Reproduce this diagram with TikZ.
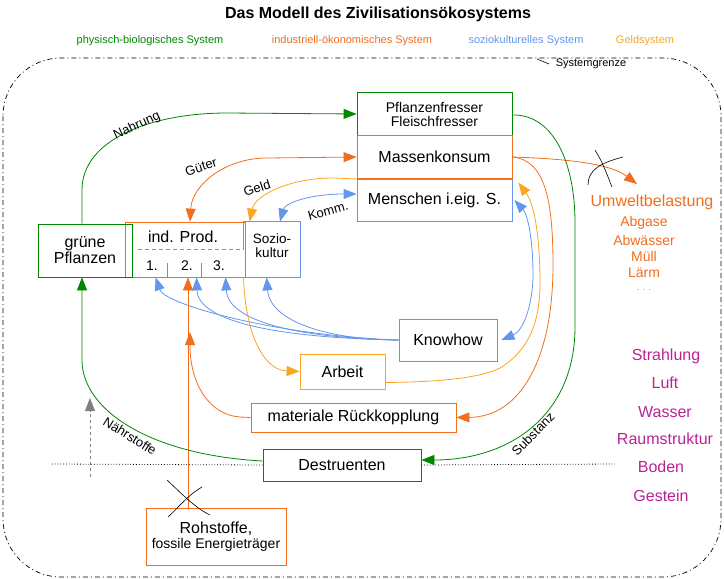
\documentclass[tikz,border=0pt]{standalone}
\usepackage{fontspec}
\setmainfont{Liberation Sans}
\usetikzlibrary{arrows.meta}

\definecolor{biogreen}{RGB}{0,135,0}
\definecolor{indorange}{RGB}{240,110,30}
\definecolor{soziblue}{RGB}{100,150,235}
\definecolor{geldorange}{RGB}{250,165,30}
\definecolor{umweltpink}{RGB}{185,35,150}
\newcommand{\fsz}[1]{\fontsize{#1}{#1}\selectfont}

\begin{document}
\begin{tikzpicture}[x=1pt,y=-1pt,line width=0.8pt,>={Triangle[length=13pt,width=10pt]}]
\tikzstyle{box}=[draw,rectangle,inner sep=0pt,align=center,font=\fsz{16}]
\tikzstyle{legende}=[font=\fsz{11}]
\tikzstyle{flow}=[font=\fsz{13}]
\tikzstyle{liste}=[font=\fsz{14},text=indorange]
\tikzstyle{umfeld}=[font=\fsz{16},text=umweltpink]

\useasboundingbox (0,0) rectangle (724,579);

% Titel, Legende, Systemgrenze
\node[font=\bfseries\fsz{16}] (titel) at (378,14) {Das Modell des Zivilisationsökosystems};
\node[legende,text=biogreen] (L1) at (150,41) {physisch-biologisches System};
\node[legende,text=indorange] (L2) at (352,41) {industriell-ökonomisches System};
\node[legende,text=soziblue] (L3) at (526,41) {soziokulturelles System};
\node[legende,text=geldorange] (L4) at (645,41) {Geldsystem};
\draw[line width=0.7pt,dash pattern=on 5pt off 3pt on 1pt off 3pt,rounded corners=58pt] (3,58) rectangle (721,577);
\node[legende] (grenze) at (591,64) {Systemgrenze};
\draw[line width=0.6pt] ([xshift=-3pt]grenze.west) -- ++(-12,-5);

% Kaesten
\node[box,draw=biogreen,minimum width=155,minimum height=43,font=\fsz{14}] (fresser) at (434.5,114) {Pflanzenfresser\\Fleischfresser};
\node[box,draw=indorange,minimum width=155,minimum height=43] (konsum) at (434.5,157) {Massenkonsum};
\node[box,draw=soziblue,minimum width=155,minimum height=42] (menschen) at (434.5,200) {Menschen i.eig. S.};
\node[box,draw=indorange,minimum width=120,minimum height=55] (prod) at (185,249.5) {};
\node[box,draw=none,minimum width=56,minimum height=55] (sozio) at (272,249.5) {};
\node[box,draw=biogreen,minimum width=94,minimum height=53] (pflanzen) at (85,250.5) {grüne\\Pflanzen};
\node[font=\fsz{16}] (prodtxt) at (183,237) {ind. Prod.};
\node[font=\fsz{13.5},align=center] (soziotxt) at (272,245.5) {Sozio-\\kultur};
\node[font=\fsz{14}] (n1) at (152,266) {1.};
\node[font=\fsz{14}] (n2) at (187,266) {2.};
\node[font=\fsz{14}] (n3) at (219,266) {3.};
\draw[soziblue,dash pattern=on 4pt off 3pt] ([xshift=13pt]prod.west) -- (sozio.west);
\draw[soziblue] (sozio.west) -- (sozio.north west) -- (sozio.north east) -- (sozio.south east) -- ([xshift=78pt]prod.south west);
\draw[indorange] ([xshift=43pt]prod.south west) -- ++(0,-14);
\draw[indorange] ([xshift=77pt]prod.south west) -- ++(0,-14);
\node[box,draw=soziblue,minimum width=98,minimum height=42] (know) at (448,340) {Knowhow};
\node[box,draw=geldorange,minimum width=85,minimum height=35] (arbeit) at (342.5,371.5) {Arbeit};
\node[box,draw=indorange,minimum width=205,minimum height=29] (mat) at (353.5,417.5) {materiale Rückkopplung};
\node[box,draw=biogreen,minimum width=158,minimum height=32] (destr) at (342,465) {Destruenten};
\node[box,draw=indorange,minimum width=140,minimum height=57] (roh) at (216,537) {Rohstoffe,\\[-1pt]{\fsz{14}fossile Energieträger}};

% Umwelt
\node[font=\fsz{16},text=indorange] (umwelt) at (652,202) {Umweltbelastung};
\node[liste] (U1) at (644,223) {Abgase};
\node[liste] (U2) at (644,240) {Abwässer};
\node[liste] (U3) at (644,256) {Müll};
\node[liste] (U4) at (644,273) {Lärm};
\node[liste,font=\fsz{9}] (U5) at (644,290) {. . .};
\node[umfeld] (S1) at (666,356) {Strahlung};
\node[umfeld] (S2) at (665,383) {Luft};
\node[umfeld] (S3) at (665,412) {Wasser};
\node[umfeld] (S4) at (665,439) {Raumstruktur};
\node[umfeld] (S5) at (661,467) {Boden};
\node[umfeld] (S6) at (661,496) {Gestein};
\coordinate (belast) at (637,184);
\coordinate (rueck) at (190,332);
\coordinate (grau1) at (90,477);
\coordinate (grau2) at (90,398);
\coordinate (punktL) at (52,464);
\coordinate (punktR) at (615,464);

% Verbindungen
\draw[->,biogreen] ([xshift=-3pt]pflanzen.north) -- (82,190) .. controls (82,140) and (150,113) .. (227,113) -- (fresser.west);
\node[flow,rotate=25] (nahrung) at (137,126) {Nahrung};
\draw[<->,indorange] ([xshift=5pt]prod.north) .. controls (192,185) and (225,158) .. (267,158) -- (konsum.west);
\node[flow,rotate=18] (gueter) at (201,167) {Güter};
\draw[->,geldorange] (konsum.south west) -- (333,178) .. controls (290,178) and (255,195) .. ([xshift=6pt]sozio.north west);
\node[flow,rotate=18] (geld) at (257,188) {Geld};
\draw[<->,soziblue] ([xshift=8pt]sozio.north) .. controls (285,203) and (310,194) .. ([yshift=6pt]menschen.west);
\node[flow,rotate=15] (komm) at (328,211) {Komm.};
\draw[->,indorange] (konsum.east) .. controls (575,159) and (612,165) .. (belast);
\draw[line width=0.6pt] (595,150) .. controls (603,163) and (606,172) .. (612,187);
\draw[line width=0.6pt] (588,185) .. controls (588,170) and (600,163) .. (623,157);
\draw[->,biogreen] ([yshift=-1pt]fresser.east) .. controls (552,114) and (575,160) .. (575,223) -- (575,327) .. controls (575,415) and (510,460) .. ([yshift=5pt]destr.east);
\node[flow,rotate=45] (substanz) at (533,434) {Substanz};
\draw[->,indorange] (konsum.east) .. controls (545,160) and (553,200) .. (553,265) .. controls (553,360) and (520,417) .. (mat.east);
\draw[->,geldorange] ([yshift=-11pt]arbeit.east) .. controls (440,382) and (480,378) .. (500,368) .. controls (530,350) and (540,320) .. (540,283) .. controls (540,240) and (535,205) .. ([xshift=6pt,yshift=-4pt]menschen.north east);
\draw[<->,soziblue] ([xshift=4pt]know.east) .. controls (525,330) and (533,300) .. (533,275) .. controls (533,240) and (528,215) .. ([xshift=2pt]menschen.east);
\draw[->,soziblue] (know.west) .. controls (280,336) and (165,305) .. ([xshift=31pt]prod.south west);
\draw[->,soziblue] (know.west) .. controls (280,338) and (198,322) .. ([xshift=72pt]prod.south west);
\draw[->,soziblue] (know.west) .. controls (300,338) and (228,322) .. ([xshift=101pt]prod.south west);
\draw[->,soziblue] (know.west) .. controls (330,340) and (270,322) .. ([xshift=142pt]prod.south west);
\draw[->,geldorange] (sozio.south west) .. controls (245,330) and (262,370) .. (arbeit.west);
\draw[->,indorange] ([xshift=-28pt]roh.north) -- ([xshift=3pt]prod.south);
\draw[line width=0.6pt] (167,480) .. controls (180,492) and (195,508) .. (210,515);
\draw[line width=0.6pt] (168,517) .. controls (178,508) and (188,495) .. (202,487);
\draw[->,indorange] (mat.west) -- (240,417) .. controls (210,415) and (190,385) .. (rueck);
\draw[->,biogreen] ([yshift=4pt]destr.west) .. controls (150,455) and (82,410) .. (82,360) -- ([xshift=-3pt]pflanzen.south);
\node[flow,rotate=-32] (naehr) at (130,436) {Nährstoffe};
\draw[->,gray,dashed] (grau1) -- (grau2);
\draw[dotted] (punktL) -- (destr.west);
\draw[dotted] (destr.east) -- (punktR);
\end{tikzpicture}
\end{document}
